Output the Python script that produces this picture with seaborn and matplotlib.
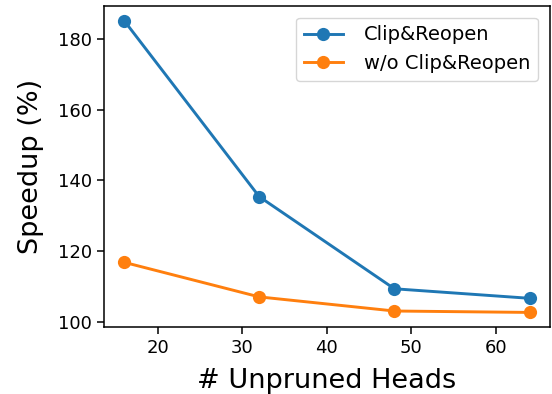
import matplotlib
matplotlib.use("Agg")
import matplotlib.pyplot as plt
import seaborn as sns
import pandas as pd

heads = [16, 32, 48, 64]
clip_reopen = [185.3, 135.4, 109.3, 106.6]
wo_clip_reopen = [116.8, 107.0, 103.0, 102.6]
series_names = ["Clip&Reopen", "w/o Clip&Reopen"]

df = pd.DataFrame({
    "heads": heads * 2,
    "speedup": clip_reopen + wo_clip_reopen,
    "method": [series_names[0]] * len(heads) + [series_names[1]] * len(heads),
})

plt.rcParams['font.family'] = ['DejaVu Sans']
plt.rcParams['axes.linewidth'] = 1.1
plt.rcParams['xtick.major.size'] = 5
plt.rcParams['ytick.major.size'] = 5
plt.rcParams['xtick.major.width'] = 1.1
plt.rcParams['ytick.major.width'] = 1.1

fig, ax = plt.subplots(figsize=(5.52, 3.94), dpi=100)
sns.lineplot(data=df, x="heads", y="speedup", hue="method", marker="o",
             markersize=9.5, markeredgewidth=0, linewidth=2.1,
             palette=["#1f77b4", "#ff7f0e"], ax=ax)

ax.set_xlabel("# Unpruned Heads", fontsize=19.5, labelpad=8)
ax.set_ylabel("Speedup (%)", fontsize=19.5, labelpad=10)
ax.set_yticks([100, 120, 140, 160, 180])
ax.set_xticks([20, 30, 40, 50, 60])
ax.tick_params(labelsize=13)
ax.legend(loc="upper right", fontsize=14, title=None, handletextpad=1.1,
          borderaxespad=0.6)

fig.subplots_adjust(left=0.188, right=0.996, top=0.985, bottom=0.170)
fig.savefig("out.png", dpi=100)
